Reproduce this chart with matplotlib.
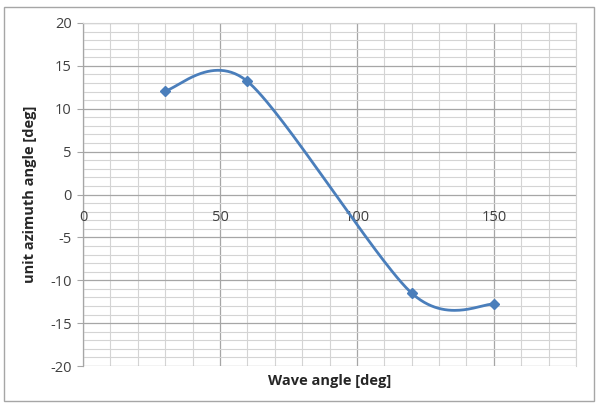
import numpy as np
import matplotlib
matplotlib.use("Agg")
import matplotlib.pyplot as plt
from matplotlib.patches import Rectangle
from matplotlib.ticker import MultipleLocator

plt.rcParams['font.family'] = ['Open Sans', 'DejaVu Sans']

wave_angle = [30, 60, 120, 150]
azimuth = [12.1, 13.2, -11.5, -12.8]
x_ticks = [0, 50, 100, 150]
y_ticks = [-20, -15, -10, -5, 0, 5, 10, 15, 20]

def excel_smooth(xs, ys, f=1/7, n=60):
    P = np.column_stack([xs, ys]).astype(float)
    m = len(P)
    out = []
    for i in range(m - 1):
        p0 = P[i - 1] if i > 0 else P[i]
        p1 = P[i]
        p2 = P[i + 1]
        p3 = P[i + 2] if i + 2 < m else P[i + 1]
        c1 = p1 + (p2 - p0) * f
        c2 = p2 - (p3 - p1) * f
        t = np.linspace(0, 1, n)[:, None]
        seg = ((1 - t) ** 3) * p1 + 3 * ((1 - t) ** 2) * t * c1 + 3 * (1 - t) * t ** 2 * c2 + t ** 3 * p2
        out.append(seg if i == 0 else seg[1:])
    s = np.vstack(out)
    return s[:, 0], s[:, 1]

fig = plt.figure(figsize=(5.96, 4.03), dpi=100)
W, H = 596, 403
ax = fig.add_axes([83 / W, 1 - 366 / H, (576 - 83) / W, (366 - 23) / H])

ax.set_xlim(0, 180)
ax.set_ylim(-20, 20)
ax.xaxis.set_major_locator(MultipleLocator(50))
ax.xaxis.set_minor_locator(MultipleLocator(10))
ax.yaxis.set_major_locator(MultipleLocator(5))
ax.yaxis.set_minor_locator(MultipleLocator(1))
ax.grid(which='major', color='#a6a6a6', linewidth=0.9)
ax.grid(which='minor', color='#d4d4d4', linewidth=0.8)
ax.set_axisbelow(True)

for s in ['top', 'right']:
    ax.spines[s].set_color('#d4d4d4')
    ax.spines[s].set_linewidth(0.8)
ax.spines['bottom'].set_visible(False)
ax.spines['left'].set_color('#a6a6a6')
ax.spines['left'].set_linewidth(0.9)

ax.set_xticks(x_ticks)
ax.set_yticks(y_ticks)
ax.set_yticklabels([str(v) for v in y_ticks])
ax.tick_params(axis='y', which='major', length=4, color='#a6a6a6', labelsize=10.5,
               labelcolor='#404040', pad=4)
ax.tick_params(axis='y', which='minor', length=0)
ax.tick_params(axis='x', which='both', length=0, labelbottom=False)

for v in x_ticks:
    ax.text(v, -2.7, str(v), ha='center', va='center', fontsize=10.5, color='#404040')

sx, sy = excel_smooth(wave_angle, azimuth)
ax.plot(sx, sy, color='#4a7ebb', linewidth=2, zorder=3, solid_capstyle='round')
ax.plot(wave_angle, azimuth, linestyle='none', marker='D', markersize=5.5,
        color='#4a7ebb', zorder=4)

fig.text(329.5 / W, 1 - 381 / H, 'Wave angle [deg]', ha='center', va='center',
         fontsize=10.5, fontweight='bold', color='#262626')
fig.text(30 / W, 1 - 194.5 / H, 'unit azimuth angle [deg]', ha='center', va='center',
         rotation=90, fontsize=10.5, fontweight='bold', color='#262626')

fig.patches.append(Rectangle((4 / W, 1 - 401 / H), 590 / W, 394 / H,
                             transform=fig.transFigure, fill=False,
                             edgecolor='#a6a6a6', linewidth=1))

fig.savefig('out.png', dpi=100)
